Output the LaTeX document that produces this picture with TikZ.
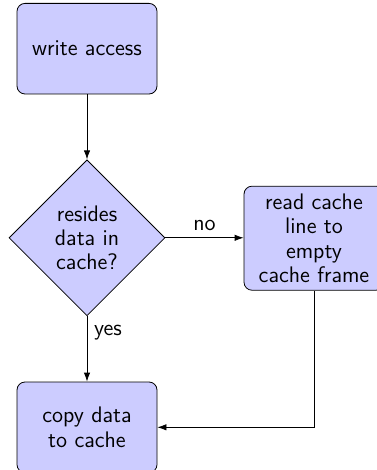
\documentclass[tikz,border=0pt]{standalone}
\usetikzlibrary{shapes.geometric,arrows.meta}
\begin{document}
\begin{tikzpicture}[x=0.5pt,y=-0.5pt,
  every node/.style={font=\sffamily\fontsize{11.25}{12.2}\selectfont},
  block/.style={rectangle, draw, fill=blue!20, rounded corners=4pt,
    align=center, minimum width=70pt, minimum height=45.3pt, inner sep=3.75pt},
  decision/.style={diamond, draw, fill=blue!20, align=center,
    minimum width=78pt, minimum height=78pt, inner sep=1pt},
  link/.style={draw, -{Latex[length=4.5pt,width=3.2pt]}}]
\useasboundingbox (0,0) rectangle (376,470);
\node[block] (wa) at (87,48.7) {write access};
\node[decision] (dia) at (87,237.8) {resides\\data in\\cache?};
\node[block] (rb) at (314,238.2) {read cache\\line to\\empty\\cache frame};
\node[block] (cc) at (87,427.3) {copy data\\to cache};
\draw[link] (wa) -- (dia);
\draw[link] (dia.east) -- node[above] {no} (dia.east -| rb.west);
\draw[link] (dia.south) -- node[near start, right] {yes} (cc.north);
\draw[link] (rb.south) |- (cc.east);
\end{tikzpicture}
\end{document}
